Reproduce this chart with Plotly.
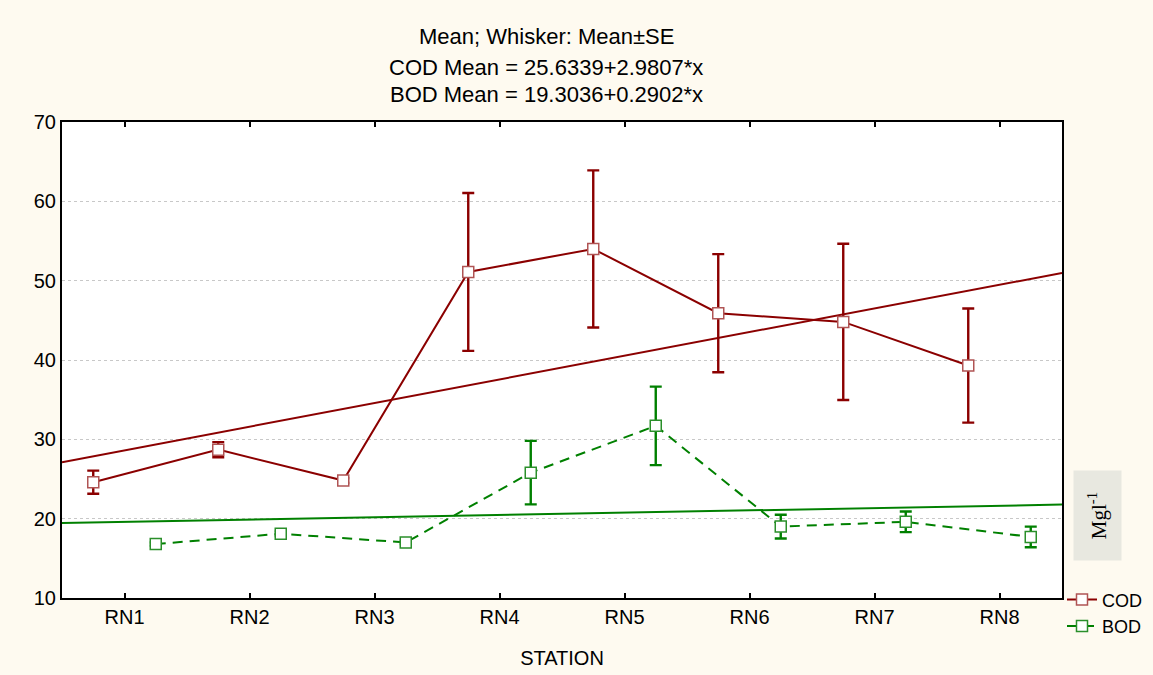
import plotly.graph_objects as go

# Station categories and per-station statistics (mg/l)
stations = ["RN1", "RN2", "RN3", "RN4", "RN5", "RN6", "RN7", "RN8"]
cod_mean = [24.6, 28.7, 24.8, 51.1, 54.0, 45.9, 44.8, 39.3]
cod_se = [1.45, 0.95, 0.3, 9.95, 9.9, 7.45, 9.85, 7.2]
bod_mean = [16.8, 18.1, 17.0, 25.8, 31.7, 19.0, 19.6, 17.7]
bod_se = [0.2, 0.3, 0.2, 4.0, 4.95, 1.5, 1.3, 1.3]

# Linear fits of the means against station index
cod_fit = (25.6339, 2.9807)
bod_fit = (19.3036, 0.2902)

COD_COLOR = "#8B0000"
BOD_COLOR = "#008000"
FONT = "Liberation Sans, Arial, sans-serif"

idx = list(range(1, len(stations) + 1))
x_lo, x_hi = 0.5, len(stations) + 0.5

fig = go.Figure()

# Regression lines across the whole x range
for (a, b), col in ((cod_fit, COD_COLOR), (bod_fit, BOD_COLOR)):
    fig.add_trace(go.Scatter(
        x=[x_lo, x_hi], y=[a + b * x_lo, a + b * x_hi],
        mode="lines", line=dict(color=col, width=2),
        showlegend=False, hoverinfo="skip"))

# Means with standard-error whiskers, offset either side of each station
fig.add_trace(go.Scatter(
    x=[i - 0.25 for i in idx], y=cod_mean, name="COD",
    mode="lines+markers",
    line=dict(color=COD_COLOR, width=2),
    marker=dict(symbol="square", size=11, color="white",
                line=dict(color="#B05454", width=1.5)),
    error_y=dict(type="data", array=cod_se, visible=True,
                 color=COD_COLOR, thickness=2.4, width=6)))

fig.add_trace(go.Scatter(
    x=[i + 0.25 for i in idx], y=bod_mean, name="BOD",
    mode="lines+markers",
    line=dict(color=BOD_COLOR, width=2, dash="10px,7px"),
    marker=dict(symbol="square", size=11, color="white",
                line=dict(color="#2A8F2A", width=1.5)),
    error_y=dict(type="data", array=bod_se, visible=True,
                 color=BOD_COLOR, thickness=2.4, width=6)))

# Header lines
header = ["Mean; Whisker: Mean\u00b1SE",
          "COD Mean = 25.6339+2.9807*x",
          "BOD Mean = 19.3036+0.2902*x"]
for txt, ypix in zip(header, (37, 68, 95)):
    fig.add_annotation(text=txt, xref="paper", yref="paper",
                       x=0.484, y=(598 - ypix) / 476, showarrow=False,
                       xanchor="center", yanchor="middle",
                       font=dict(family=FONT, size=22, color="black"))

# Unit label box on the right
fig.add_annotation(text="Mgl<sup>-1</sup>", xref="paper", yref="paper",
                   x=(1097 - 62) / 1000, y=(598 - 516) / 476,
                   showarrow=False, textangle=-90,
                   xanchor="center", yanchor="middle",
                   bgcolor="#E8E8E0", width=89, height=47, borderpad=0,
                   font=dict(family="Liberation Serif, Times New Roman, serif",
                             size=21, color="black"))

fig.update_layout(
    width=1153, height=675,
    margin=dict(l=62, r=91, t=122, b=77, autoexpand=False),
    paper_bgcolor="#FEFAF0", plot_bgcolor="white",
    font=dict(family=FONT, size=20, color="black"),
    legend=dict(x=1.0, y=0.035, xanchor="left", yanchor="top",
                bgcolor="rgba(0,0,0,0)", font=dict(family=FONT, size=18),
                tracegroupgap=0, itemwidth=30),
    xaxis=dict(range=[x_lo, x_hi], tickmode="array", tickvals=idx,
               ticktext=stations, ticks="inside", ticklen=5,
               tickcolor="black", tickwidth=2, showgrid=False,
               zeroline=False, showline=True, linecolor="black",
               linewidth=2, mirror="ticks",
               tickfont=dict(family=FONT, size=20),
               title=dict(text="STATION", font=dict(family=FONT, size=20),
                          standoff=24)),
    yaxis=dict(range=[10, 70], dtick=10, ticks="", showgrid=True,
               gridcolor="#C8C8C8", griddash="dot", gridwidth=1,
               zeroline=False, showline=True, linecolor="black",
               linewidth=2, mirror=True,
               tickfont=dict(family=FONT, size=20)),
    yaxis2=dict(overlaying="y", side="right", matches="y",
                range=[10, 70], dtick=10, ticks="inside", ticklen=5,
                tickwidth=2, tickcolor="black", showticklabels=False,
                showgrid=False, zeroline=False, showline=False),
)

fig.write_html("out.html")
